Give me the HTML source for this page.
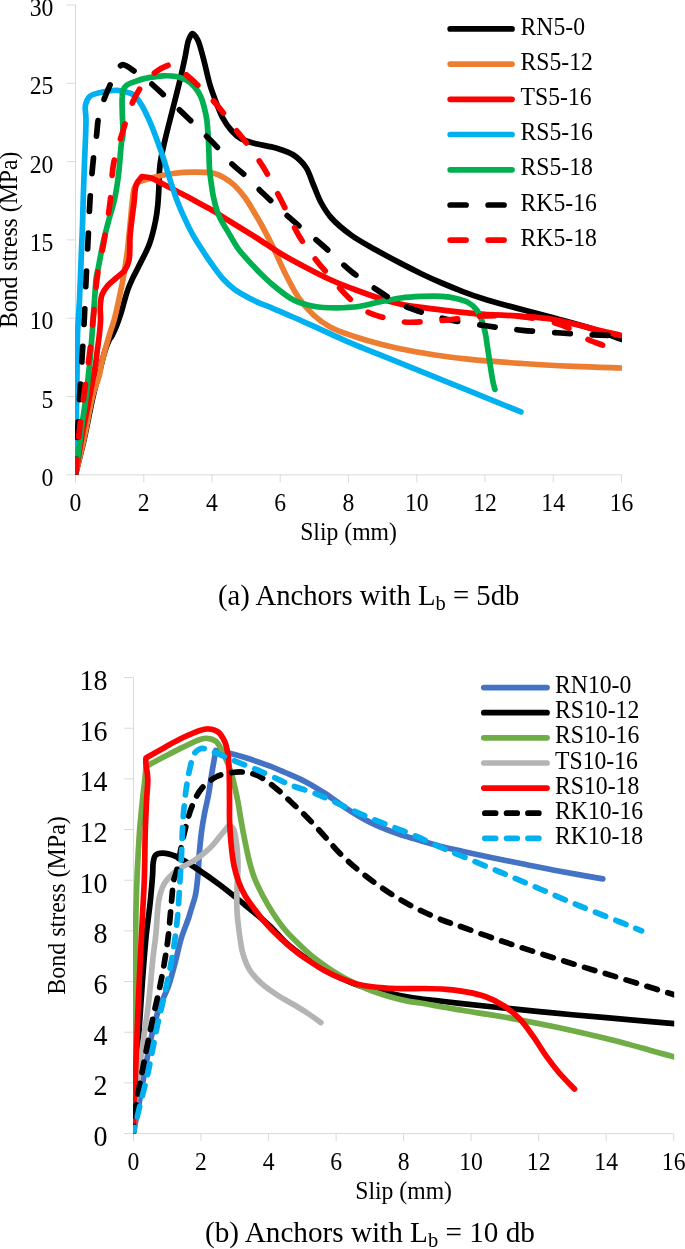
<!DOCTYPE html><html><head><meta charset="utf-8"><title>Bond stress-slip curves</title>
<style>html,body{margin:0;padding:0;background:#fff}svg{display:block}text{font-family:"Liberation Serif","Times New Roman",serif;fill:#000}</style></head><body>
<svg width="685" height="1249" viewBox="0 0 685 1249">
<rect width="685" height="1249" fill="#fff"/>
<defs><clipPath id="c1"><rect x="75.0" y="0" width="547.0" height="474.8"/></clipPath><clipPath id="c2"><rect x="133.0" y="660" width="541.2" height="473.6"/></clipPath></defs>
<g stroke="#dadada" stroke-width="1" fill="none">
<path d="M75.5 5.0V482.3M67.0 474.8H621.5"/>
<path d="M143.8 474.8v7.5M212.0 474.8v7.5M280.2 474.8v7.5M348.5 474.8v7.5M416.8 474.8v7.5M485.0 474.8v7.5M553.2 474.8v7.5M621.5 474.8v7.5M67.0 396.5h8.5M67.0 318.2h8.5M67.0 239.9h8.5M67.0 161.6h8.5M67.0 83.3h8.5M67.0 5.0h8.5"/>
</g>
<g font-size="23.7">
<text transform="translate(75.5 511.0) scale(1 1.030)" text-anchor="middle">0</text>
<text transform="translate(143.8 511.0) scale(1 1.030)" text-anchor="middle">2</text>
<text transform="translate(212.0 511.0) scale(1 1.030)" text-anchor="middle">4</text>
<text transform="translate(280.2 511.0) scale(1 1.030)" text-anchor="middle">6</text>
<text transform="translate(348.5 511.0) scale(1 1.030)" text-anchor="middle">8</text>
<text transform="translate(416.8 511.0) scale(1 1.030)" text-anchor="middle">10</text>
<text transform="translate(485.0 511.0) scale(1 1.030)" text-anchor="middle">12</text>
<text transform="translate(553.2 511.0) scale(1 1.030)" text-anchor="middle">14</text>
<text transform="translate(621.5 511.0) scale(1 1.030)" text-anchor="middle">16</text>
<text transform="translate(53.4 485.9) scale(1 1.030)" text-anchor="end" font-size="23.7">0</text>
<text transform="translate(53.4 407.6) scale(1 1.030)" text-anchor="end" font-size="23.7">5</text>
<text transform="translate(53.4 329.3) scale(1 1.030)" text-anchor="end" font-size="23.7">10</text>
<text transform="translate(53.4 251.0) scale(1 1.030)" text-anchor="end" font-size="23.7">15</text>
<text transform="translate(53.4 172.7) scale(1 1.030)" text-anchor="end" font-size="23.7">20</text>
<text transform="translate(53.4 94.4) scale(1 1.030)" text-anchor="end" font-size="23.7">25</text>
<text transform="translate(53.4 16.1) scale(1 1.030)" text-anchor="end" font-size="23.7">30</text>
<text transform="translate(348.5 540.0) scale(1 1.030)" text-anchor="middle">Slip (mm)</text>
<text transform="translate(17.2 239.9) rotate(-90) scale(1 1.030)" text-anchor="middle" font-size="23.7">Bond stress (MPa)</text>
</g>
<g clip-path="url(#c1)" fill="none" stroke-width="5.7" stroke-linecap="round" stroke-linejoin="round">
<path stroke="#000000" d="M75.5 474.8C78.5 462.3 81.7 450.2 84.6 437.3C87.7 423.6 90.5 407.2 93.4 395.0C95.6 385.5 98.0 377.7 100.0 370.0C101.7 363.4 103.0 357.0 104.8 351.5C106.3 347.0 108.1 342.1 109.5 339.5C110.2 338.1 110.8 337.9 111.6 336.5C113.0 334.0 115.2 329.0 116.8 325.1C118.3 321.3 119.7 317.4 120.9 313.5C122.1 309.6 123.1 305.7 124.2 301.8C125.3 297.9 126.3 294.0 127.7 290.1C129.1 286.2 130.8 282.3 132.6 278.4C134.4 274.5 136.3 271.3 138.5 266.7C141.7 260.3 146.7 251.3 149.6 243.4C152.4 235.7 154.3 227.0 155.7 220.0C156.8 214.5 157.3 210.0 157.8 205.0C158.3 200.0 158.4 195.6 158.8 190.0C159.2 182.7 159.0 173.3 160.0 165.0C161.0 156.6 163.0 148.7 165.0 140.0C167.2 130.4 170.0 120.0 172.5 110.0C175.0 100.0 177.8 89.3 180.0 80.0C181.9 72.0 183.5 64.6 185.0 57.5C186.4 51.2 187.0 43.8 188.8 39.5C189.8 36.8 191.1 33.6 192.5 33.5C194.0 33.4 196.0 36.7 197.5 39.5C200.0 44.1 201.8 52.8 203.8 60.0C205.9 67.9 207.7 77.5 210.0 85.0C211.9 91.4 214.1 96.9 216.2 102.5C218.3 107.7 220.0 112.8 222.5 117.5C224.9 122.0 227.8 126.4 231.0 130.0C234.0 133.4 237.1 136.5 241.0 138.8C245.3 141.2 250.6 142.3 256.0 143.8C262.1 145.4 269.6 146.1 276.0 148.0C282.1 149.9 288.4 151.7 293.5 155.0C298.4 158.2 302.7 162.6 306.0 167.5C309.4 172.6 311.0 179.2 313.5 185.0C316.0 190.8 318.0 197.0 321.0 202.5C323.9 207.8 326.7 212.6 331.0 217.5C336.2 223.5 343.7 229.7 351.0 235.0C358.6 240.6 367.6 245.2 376.0 250.0C384.3 254.7 393.0 259.3 400.9 263.4C408.0 267.1 414.5 270.4 421.3 273.7C428.1 277.0 434.9 280.1 441.8 283.0C448.6 285.9 455.4 288.7 462.2 291.3C469.0 293.9 475.6 296.3 482.6 298.5C489.9 300.8 495.9 302.5 505.0 305.0C518.8 308.8 541.6 314.5 557.7 319.0C571.5 322.8 584.6 326.3 596.0 330.0C605.4 333.1 613.0 336.3 621.5 339.4"/>
<path stroke="#ED7D31" d="M75.5 475.0C78.4 462.5 81.4 450.4 84.2 437.5C87.2 423.8 89.9 406.5 92.9 395.0C95.0 387.0 97.9 380.7 99.4 375.0C100.5 370.8 100.7 367.7 101.5 363.8C102.4 359.6 103.6 355.3 104.8 350.7C106.2 345.7 107.8 340.3 109.4 334.9C111.1 329.3 113.2 323.6 114.7 317.9C116.2 312.2 117.4 306.4 118.6 300.8C119.8 295.4 120.9 290.0 121.9 285.0C122.8 280.5 123.5 276.9 124.3 272.0C125.4 265.6 126.5 257.9 127.5 250.0C128.6 240.8 129.6 229.0 130.5 220.0C131.2 212.7 131.7 205.9 132.5 200.0C133.1 195.3 133.1 190.8 134.5 187.5C135.6 185.0 137.5 183.5 139.0 181.5C144.4 180.0 149.7 178.3 155.2 177.0C160.9 175.6 166.8 174.3 172.9 173.5C179.3 172.7 185.9 172.2 192.6 172.2C199.5 172.2 207.9 172.0 213.6 173.3C217.8 174.3 220.7 175.8 224.1 177.7C227.7 179.8 231.3 182.4 234.6 185.5C238.3 189.0 241.9 193.4 245.1 197.8C248.3 202.2 251.2 207.3 253.9 211.8C256.4 216.0 258.4 219.3 261.0 224.0C264.4 230.2 268.6 238.1 272.5 246.0C276.9 255.0 281.4 266.0 286.0 275.0C290.1 283.1 293.8 290.7 298.5 297.5C303.0 303.9 308.0 309.9 313.5 315.0C318.8 319.9 324.4 324.0 331.0 327.5C338.4 331.4 347.6 334.2 356.0 337.0C364.3 339.8 373.2 342.3 381.0 344.3C387.7 346.1 392.7 347.2 400.0 348.7C409.9 350.7 423.3 353.2 435.0 355.0C446.6 356.8 457.1 358.1 470.0 359.4C485.7 361.0 505.1 362.3 522.6 363.5C540.1 364.7 558.1 365.6 575.0 366.4C591.0 367.1 606.0 367.5 621.5 368.0"/>
<path stroke="#FF0000" d="M75.5 475.0C77.6 462.5 79.5 450.0 81.7 437.5C84.0 425.0 86.6 412.5 89.0 400.0C91.3 387.5 94.4 371.7 95.8 362.5C96.6 357.2 96.8 354.2 97.3 350.0C97.9 345.7 98.6 341.5 99.1 336.8C99.7 331.4 100.4 324.7 100.6 319.3C100.7 314.7 100.0 310.6 100.3 306.4C100.5 302.4 100.7 298.3 102.0 294.8C103.3 291.4 105.5 288.3 107.9 285.4C110.5 282.4 114.3 279.8 117.2 277.2C119.9 274.8 122.8 272.9 124.8 270.2C126.7 267.5 128.1 264.3 128.9 260.9C129.8 257.3 129.6 253.1 129.8 249.2C130.0 245.3 129.7 241.8 130.0 237.5C130.3 232.2 131.1 225.8 131.8 220.0C132.5 214.3 133.2 208.8 134.0 203.0C134.8 196.8 134.6 188.7 136.5 184.0C137.8 180.7 140.2 179.0 142.0 176.5C145.2 177.1 148.4 177.1 151.7 178.2C155.5 179.5 159.5 182.3 163.4 184.3C167.3 186.3 171.1 188.2 175.0 190.2C178.9 192.2 182.8 194.2 186.7 196.3C190.6 198.4 194.5 200.6 198.4 202.7C202.3 204.8 206.7 207.2 210.1 209.1C212.7 210.6 214.4 211.5 217.1 213.2C221.0 215.6 225.7 218.7 231.0 222.0C238.1 226.5 247.7 232.2 256.0 237.5C264.4 242.8 272.6 248.7 281.0 253.8C289.2 258.7 297.6 263.1 306.0 267.5C314.3 271.9 322.6 276.2 331.0 280.0C339.3 283.7 347.6 286.9 356.0 290.0C364.3 293.1 373.2 296.3 381.0 298.8C387.7 300.9 392.7 302.4 400.0 304.0C409.8 306.1 422.8 307.6 435.0 309.2C448.3 310.9 462.7 312.6 477.0 313.8C491.9 315.0 509.2 315.3 522.6 316.3C533.1 317.1 541.7 317.6 550.7 319.0C559.1 320.3 567.2 322.5 575.0 324.3C582.3 326.0 588.7 327.8 596.0 329.6C604.1 331.6 613.0 333.5 621.5 335.5"/>
<path stroke="#00B0F0" d="M75.5 474.8C75.8 458.2 76.0 441.6 76.2 425.0C76.5 408.4 76.8 390.7 77.0 375.0C77.2 360.9 77.1 347.9 77.5 335.0C77.9 322.9 78.9 312.7 79.5 300.0C80.2 284.8 80.9 263.8 81.5 250.0C81.9 240.2 82.2 233.3 82.5 225.0C82.8 216.7 82.9 209.2 83.2 200.0C83.6 188.8 84.0 175.4 84.5 162.5C85.0 148.8 86.0 130.6 86.0 120.0C86.0 113.7 84.6 109.2 85.5 105.0C86.3 101.6 87.5 98.4 90.0 96.2C92.9 93.8 98.1 93.0 102.5 92.0C107.2 90.9 113.0 90.1 117.5 90.3C121.2 90.5 124.7 91.5 127.6 92.4C130.0 93.2 132.0 93.6 134.0 95.2C136.7 97.3 139.4 101.5 141.7 105.2C144.3 109.4 146.6 114.5 148.7 119.2C150.8 123.8 152.7 128.6 154.5 133.2C156.2 137.6 157.7 141.8 159.2 146.1C160.7 150.4 162.3 154.8 163.6 158.9C164.8 162.7 165.8 166.0 167.0 170.0C168.5 174.7 170.1 180.1 171.8 185.2C173.6 190.5 175.3 196.1 177.4 201.5C179.5 207.0 181.9 212.5 184.4 217.9C186.9 223.4 189.6 229.0 192.6 234.3C195.6 239.7 199.0 244.9 202.3 250.0C205.4 254.8 208.3 259.3 211.7 264.0C215.3 269.0 219.3 274.8 223.4 279.2C227.1 283.2 231.0 286.7 235.0 289.7C238.8 292.5 242.8 294.5 246.7 296.7C250.6 298.8 254.5 300.8 258.4 302.6C262.3 304.3 266.4 305.7 270.1 307.2C273.5 308.6 276.0 309.6 280.0 311.3C286.3 314.0 296.2 318.5 304.4 322.1C312.7 325.8 321.0 329.6 329.3 333.3C337.6 337.0 345.8 340.9 354.1 344.4C362.3 347.9 367.2 349.7 378.9 354.4C406.8 365.7 473.6 392.7 520.9 411.9"/>
<path stroke="#00B050" d="M75.5 474.8C77.7 458.2 79.9 440.1 82.0 425.0C83.7 412.3 85.9 399.2 87.0 390.0C87.7 384.0 87.9 379.6 88.4 375.0C88.8 371.0 89.2 368.7 89.7 363.8C90.6 354.7 91.9 337.1 92.8 324.4C93.7 312.5 94.5 298.5 95.2 290.0C95.6 285.0 95.6 281.9 96.2 278.0C96.7 274.2 97.6 271.1 98.5 266.7C99.8 260.3 101.3 251.2 103.0 243.4C104.7 235.6 106.8 227.5 108.8 220.0C110.6 213.1 112.8 207.1 114.4 200.0C116.1 192.2 117.4 183.9 118.5 175.0C119.8 164.9 120.5 149.5 121.5 142.5C122.0 139.1 122.7 138.2 122.9 135.0C123.3 129.7 122.4 120.1 122.3 113.4C122.2 107.6 121.8 101.4 122.2 97.0C122.4 94.0 122.6 91.5 123.5 89.5C124.2 87.8 124.9 86.6 126.4 85.4C128.5 83.7 132.6 82.5 135.7 81.3C138.8 80.1 141.9 79.1 145.1 78.4C148.3 77.6 151.9 77.2 155.0 76.8C157.8 76.4 160.1 75.9 163.1 75.8C167.0 75.7 172.2 75.7 176.3 76.5C180.1 77.3 183.7 78.6 186.8 80.4C189.8 82.1 192.4 84.4 194.7 87.0C197.0 89.7 199.0 92.8 200.6 96.2C202.3 99.9 203.5 104.4 204.5 108.5C205.5 112.4 206.2 115.8 206.8 120.0C207.5 125.0 207.8 131.1 208.2 136.7C208.6 142.5 208.8 148.6 209.0 154.3C209.2 159.7 209.2 165.2 209.6 170.0C209.9 174.2 210.4 177.6 211.0 181.7C211.7 186.4 212.4 192.0 213.4 196.9C214.4 201.7 215.7 206.9 217.1 210.9C218.2 214.0 219.0 216.1 220.5 219.0C222.3 222.7 225.0 226.7 227.6 231.1C230.7 236.4 234.2 243.2 238.1 248.6C241.8 253.8 246.5 258.5 250.4 262.8C253.8 266.5 256.5 269.5 260.0 273.0C264.1 277.0 268.4 281.3 273.5 285.5C279.4 290.3 286.5 296.5 293.5 300.0C299.9 303.2 306.6 304.9 313.5 306.2C320.7 307.6 328.4 307.8 336.0 307.8C343.9 307.8 352.4 307.4 360.0 306.3C367.1 305.3 373.6 303.1 380.4 301.7C387.2 300.3 394.1 298.9 400.9 298.0C407.7 297.1 414.5 296.7 421.3 296.4C428.1 296.1 435.6 295.9 441.8 296.4C447.0 296.8 451.6 297.4 456.1 298.5C460.4 299.5 464.8 300.6 468.3 302.6C471.5 304.4 474.3 306.9 476.5 309.7C478.8 312.6 480.2 316.3 481.6 319.9C483.1 323.7 484.1 327.8 485.1 332.2C486.2 337.2 486.8 342.8 487.7 348.5C488.7 354.9 489.8 362.8 490.8 369.0C491.6 374.2 492.5 379.5 493.3 383.3C493.8 385.8 494.4 387.4 494.9 389.4"/>
<path stroke="#000000" stroke-dasharray="15.6 22.13" stroke-dashoffset="0.0" d="M75.5 475.0C76.3 458.3 77.1 441.7 78.0 425.0C78.9 408.3 80.0 391.7 81.0 375.0C82.0 358.3 83.1 341.7 84.0 325.0C84.9 308.3 85.5 291.7 86.3 275.0C87.1 258.3 88.1 238.8 88.8 225.0C89.2 215.2 89.4 209.5 90.0 200.0C90.9 187.2 92.4 167.0 93.8 155.0C94.7 147.0 95.8 141.3 96.6 135.0C97.3 129.3 97.3 124.2 98.4 118.7C99.6 112.8 101.6 106.5 103.6 100.6C105.6 94.8 108.4 88.8 110.6 83.6C112.5 79.2 114.2 74.6 116.0 71.5C117.2 69.4 118.2 67.7 119.5 66.5C120.5 65.6 121.7 64.7 122.9 64.6C124.2 64.5 125.5 65.5 127.0 66.3C129.2 67.5 131.6 69.3 134.6 71.4C138.9 74.4 145.0 78.4 150.0 82.5C155.2 86.7 159.4 91.0 165.0 96.2C172.3 103.1 181.5 111.7 190.0 120.0C199.0 128.8 210.1 139.5 217.5 147.5C222.9 153.3 226.2 158.2 231.0 163.0C235.7 167.8 240.9 171.4 246.0 176.2C251.7 181.6 256.8 187.3 263.5 193.8C272.1 202.0 283.5 212.5 293.5 221.2C303.1 229.6 312.8 236.8 322.2 245.0C331.9 253.4 341.1 263.2 351.0 271.2C360.7 279.0 372.0 286.6 381.0 292.5C388.0 297.1 393.4 300.8 400.0 304.0C406.7 307.3 413.7 309.6 421.0 312.0C428.8 314.6 436.2 316.9 445.5 319.0C457.6 321.7 474.2 324.1 487.6 326.0C499.8 327.8 510.6 329.1 522.6 330.3C535.1 331.5 548.8 332.2 561.0 333.0C572.1 333.7 582.4 334.3 592.7 334.8C602.5 335.3 611.9 335.6 621.5 336.0"/>
<path stroke="#FF0000" stroke-dasharray="15.6 22.13" stroke-dashoffset="0.0" d="M75.5 475.0C77.0 458.3 78.3 440.5 80.0 425.0C81.5 411.6 83.3 400.0 85.0 387.5C86.7 375.0 88.5 362.5 90.0 350.0C91.5 337.5 92.5 325.0 93.8 312.5C95.0 300.0 95.7 287.0 97.5 275.0C99.1 263.7 101.8 253.9 103.8 242.5C105.9 230.0 108.3 216.3 110.0 203.0C111.7 189.6 111.4 174.9 113.8 162.5C115.8 151.6 119.4 142.5 122.5 132.5C125.6 122.5 128.7 111.0 132.5 102.5C135.5 95.7 138.6 90.1 142.5 85.0C146.2 80.2 150.6 75.8 155.0 72.5C159.0 69.5 164.1 66.7 167.5 65.5C169.6 64.7 170.9 64.0 173.0 64.5C176.4 65.3 181.0 70.4 185.0 73.8C189.2 77.2 193.2 80.9 197.5 85.0C202.3 89.6 207.8 94.9 212.5 100.0C217.0 104.9 221.0 109.9 225.0 115.0C228.9 119.9 232.4 125.3 236.0 130.0C239.4 134.4 242.3 137.5 246.0 142.5C251.1 149.3 257.9 158.4 263.5 167.5C269.6 177.5 275.2 188.9 281.0 200.0C286.9 211.4 292.3 224.5 298.5 235.0C304.0 244.3 310.2 252.5 316.0 260.0C321.0 266.5 325.8 271.5 331.0 277.5C336.6 284.0 342.4 291.7 348.5 297.5C354.1 302.8 359.9 307.9 366.0 311.2C371.6 314.3 377.4 315.8 383.5 317.5C389.9 319.3 397.0 321.2 403.5 321.9C409.5 322.6 414.5 322.1 421.0 321.9C429.2 321.6 439.4 320.7 449.0 319.8C459.3 318.8 469.8 316.6 481.0 316.0C493.3 315.3 507.5 315.3 520.0 316.5C531.8 317.6 545.2 320.2 554.0 322.6C559.8 324.2 563.0 325.4 568.0 327.8C574.4 330.8 582.6 337.0 589.0 340.0C594.0 342.4 598.0 343.3 603.0 345.3C608.8 347.6 615.3 350.4 621.5 353.0"/>
</g>
<g font-size="23.7" stroke-width="5.7" stroke-linecap="round" fill="none">
<path stroke="#000000" d="M450.2 28.9H512.0"/>
<text transform="translate(520.5 34.5) scale(1 1.030)" fill="#000" stroke="none">RN5-0</text>
<path stroke="#ED7D31" d="M450.2 64.1H512.0"/>
<text transform="translate(520.5 69.7) scale(1 1.030)" fill="#000" stroke="none">RS5-12</text>
<path stroke="#FF0000" d="M450.2 99.3H512.0"/>
<text transform="translate(520.5 104.9) scale(1 1.030)" fill="#000" stroke="none">TS5-16</text>
<path stroke="#00B0F0" d="M450.2 134.5H512.0"/>
<text transform="translate(520.5 140.1) scale(1 1.030)" fill="#000" stroke="none">RS5-16</text>
<path stroke="#00B050" d="M450.2 169.8H512.0"/>
<text transform="translate(520.5 175.4) scale(1 1.030)" fill="#000" stroke="none">RS5-18</text>
<path stroke="#000000" d="M450.15 205.0H466.05M488.15 205.0H504.05"/>
<text transform="translate(520.5 210.6) scale(1 1.030)" fill="#000" stroke="none">RK5-16</text>
<path stroke="#FF0000" d="M450.15 240.1H466.05M488.15 240.1H504.05"/>
<text transform="translate(520.5 245.7) scale(1 1.030)" fill="#000" stroke="none">RK5-18</text>
</g>
<text transform="translate(218.0 605.2) scale(1 1.030)" font-size="28.7">(a) Anchors with L<tspan font-size="20.5" dy="4.2">b</tspan><tspan dy="-4.2"> = 5db</tspan></text>
<g stroke="#dadada" stroke-width="1" fill="none">
<path d="M133.5 677.5V1141.1M124.0 1133.6H673.7"/>
<path d="M201.0 1133.6v7.5M268.6 1133.6v7.5M336.1 1133.6v7.5M403.6 1133.6v7.5M471.1 1133.6v7.5M538.7 1133.6v7.5M606.2 1133.6v7.5M673.7 1133.6v7.5M124.0 1082.9h9.5M124.0 1032.2h9.5M124.0 981.6h9.5M124.0 930.9h9.5M124.0 880.2h9.5M124.0 829.5h9.5M124.0 778.9h9.5M124.0 728.2h9.5M124.0 677.5h9.5"/>
</g>
<g font-size="23.7">
<text transform="translate(133.5 1170.3) scale(1 1.030)" text-anchor="middle">0</text>
<text transform="translate(201.0 1170.3) scale(1 1.030)" text-anchor="middle">2</text>
<text transform="translate(268.6 1170.3) scale(1 1.030)" text-anchor="middle">4</text>
<text transform="translate(336.1 1170.3) scale(1 1.030)" text-anchor="middle">6</text>
<text transform="translate(403.6 1170.3) scale(1 1.030)" text-anchor="middle">8</text>
<text transform="translate(471.1 1170.3) scale(1 1.030)" text-anchor="middle">10</text>
<text transform="translate(538.7 1170.3) scale(1 1.030)" text-anchor="middle">12</text>
<text transform="translate(606.2 1170.3) scale(1 1.030)" text-anchor="middle">14</text>
<text transform="translate(673.7 1170.3) scale(1 1.030)" text-anchor="middle">16</text>
<text transform="translate(107.6 1146.0) scale(1 1.030)" text-anchor="end" font-size="28.0">0</text>
<text transform="translate(107.6 1095.3) scale(1 1.030)" text-anchor="end" font-size="28.0">2</text>
<text transform="translate(107.6 1044.6) scale(1 1.030)" text-anchor="end" font-size="28.0">4</text>
<text transform="translate(107.6 994.0) scale(1 1.030)" text-anchor="end" font-size="28.0">6</text>
<text transform="translate(107.6 943.3) scale(1 1.030)" text-anchor="end" font-size="28.0">8</text>
<text transform="translate(107.6 892.6) scale(1 1.030)" text-anchor="end" font-size="28.0">10</text>
<text transform="translate(107.6 841.9) scale(1 1.030)" text-anchor="end" font-size="28.0">12</text>
<text transform="translate(107.6 791.3) scale(1 1.030)" text-anchor="end" font-size="28.0">14</text>
<text transform="translate(107.6 740.6) scale(1 1.030)" text-anchor="end" font-size="28.0">16</text>
<text transform="translate(107.6 689.9) scale(1 1.030)" text-anchor="end" font-size="28.0">18</text>
<text transform="translate(403.6 1198.5) scale(1 1.030)" text-anchor="middle">Slip (mm)</text>
<text transform="translate(65.3 905.5) rotate(-90) scale(1 1.030)" text-anchor="middle" font-size="24.0">Bond stress (MPa)</text>
</g>
<g clip-path="url(#c2)" fill="none" stroke-width="5.7" stroke-linecap="round" stroke-linejoin="round">
<path stroke="#4472C4" d="M133.2 1133.6C135.1 1124.1 136.9 1115.0 138.8 1105.0C140.8 1093.9 142.9 1081.4 145.0 1070.0C147.0 1059.0 148.9 1047.8 151.2 1037.5C153.4 1027.9 155.5 1018.9 158.5 1010.0C161.4 1001.4 166.0 993.2 168.8 985.0C171.4 977.4 173.1 970.2 175.2 962.5C177.4 954.4 179.1 945.3 181.5 937.5C183.7 930.4 187.1 922.6 188.8 917.5C189.8 914.4 190.1 912.9 191.0 910.0C192.2 905.8 194.4 900.1 195.5 894.7C196.7 888.8 197.3 882.3 197.9 875.7C198.6 868.7 198.7 861.1 199.3 853.8C199.9 846.5 200.6 839.0 201.5 831.9C202.4 825.1 203.6 818.3 204.8 812.0C205.9 806.2 207.3 801.3 208.4 795.3C209.7 788.5 210.6 780.8 211.8 773.4C213.0 765.8 214.5 758.1 215.8 750.5C219.7 751.2 223.2 751.7 227.5 752.7C232.8 753.9 238.7 755.5 245.0 757.5C252.6 759.9 262.8 763.5 270.0 766.2C275.7 768.4 279.6 770.2 285.0 772.5C291.3 775.2 298.7 778.2 305.4 781.7C312.3 785.3 319.2 789.6 325.9 794.0C332.8 798.5 339.4 803.8 346.3 808.3C353.0 812.7 359.9 817.0 366.8 820.6C373.5 824.1 380.3 827.1 387.2 829.8C394.0 832.5 401.1 834.8 407.7 836.9C413.7 838.8 419.3 840.4 425.0 842.0C430.4 843.6 435.3 845.1 441.0 846.5C447.5 848.1 454.6 849.6 462.0 851.2C470.3 853.0 479.2 855.0 488.6 857.0C499.1 859.2 511.0 861.5 522.2 863.8C533.4 866.0 543.6 868.2 555.7 870.5C570.1 873.2 587.1 876.1 602.8 878.9"/>
<path stroke="#000000" d="M133.2 1133.6C133.4 1126.6 133.4 1121.3 133.8 1112.5C134.4 1098.0 136.2 1075.4 137.5 1055.0C139.0 1031.7 140.9 1001.8 142.5 980.0C143.8 963.1 144.9 948.5 146.2 935.0C147.4 924.0 148.8 915.0 149.9 905.0C151.0 895.0 152.0 882.9 152.6 875.0C153.0 869.8 152.6 865.6 153.3 862.0C153.8 859.3 154.0 856.7 155.5 855.2C157.0 853.7 159.8 853.3 162.5 853.2C166.1 853.1 171.3 854.6 175.0 856.0C178.3 857.2 180.7 858.9 183.8 860.6C187.3 862.6 190.6 864.6 195.0 867.5C201.7 871.9 211.8 878.8 220.0 885.0C228.4 891.3 236.7 898.2 245.0 905.0C253.4 911.9 262.9 919.3 270.0 926.0C275.8 931.5 279.4 936.7 285.0 941.8C291.1 947.3 298.5 952.9 305.4 957.8C312.1 962.5 319.0 967.0 325.9 970.8C332.6 974.5 340.0 977.8 346.3 980.5C351.6 982.8 355.4 984.5 361.0 986.2C368.2 988.5 377.6 990.6 386.0 992.5C394.3 994.4 402.6 996.1 411.0 997.5C419.3 998.8 427.6 999.6 436.0 1000.6C444.6 1001.6 452.2 1002.5 462.0 1003.6C474.6 1005.0 490.4 1006.7 505.4 1008.2C521.5 1009.9 538.9 1011.6 555.7 1013.2C572.5 1014.8 588.0 1016.1 606.1 1017.7C627.1 1019.6 651.6 1021.7 674.3 1023.7"/>
<path stroke="#70AD47" d="M133.5 1133.0C133.7 1093.7 133.4 1044.6 134.0 1015.0C134.3 997.1 135.2 987.6 135.5 972.0C135.9 953.2 135.4 931.8 136.0 910.0C136.6 885.5 138.1 852.0 139.5 832.0C140.4 819.4 141.4 810.7 142.4 801.3C143.2 793.2 144.3 785.1 144.9 778.8C145.4 774.1 145.6 770.7 146.0 766.7C147.1 766.0 147.6 765.6 149.2 764.7C153.1 762.5 163.9 756.8 170.0 753.7C174.7 751.3 178.0 749.6 182.6 747.4C187.9 744.9 195.4 740.9 200.0 739.5C202.8 738.6 204.6 738.1 207.1 738.3C209.9 738.5 213.4 739.4 215.8 741.3C218.5 743.3 220.1 747.1 222.0 750.5C224.1 754.3 225.9 759.0 227.5 763.0C229.0 766.6 230.2 769.6 231.4 773.4C232.8 777.8 233.9 783.4 235.0 788.0C236.0 792.2 236.7 795.4 237.6 800.0C238.8 806.2 240.0 814.6 241.3 821.9C242.6 829.2 244.1 837.1 245.5 843.8C246.7 849.6 247.6 854.5 249.0 860.0C250.5 865.7 252.0 871.7 254.2 877.5C256.5 883.4 259.4 889.2 262.4 895.0C265.5 900.9 268.9 906.8 272.6 912.5C276.4 918.4 280.8 924.8 285.2 930.0C289.2 934.7 293.0 938.3 297.5 942.7C302.7 947.8 309.0 953.7 315.0 958.5C320.7 963.0 326.9 967.2 332.5 970.8C337.3 973.9 341.2 976.3 346.3 979.0C352.4 982.3 359.9 985.9 366.8 988.8C373.5 991.6 380.3 993.9 387.2 996.0C394.0 998.0 401.1 999.8 407.7 1001.1C413.7 1002.3 419.4 1002.8 425.0 1003.8C430.4 1004.7 435.3 1005.7 441.0 1006.7C447.5 1007.9 453.7 1008.9 462.0 1010.3C473.9 1012.3 490.4 1014.6 505.4 1017.3C521.6 1020.2 539.0 1023.5 555.7 1027.0C572.5 1030.6 588.1 1034.1 606.1 1038.6C627.2 1043.8 651.6 1050.8 674.3 1056.9"/>
<path stroke="#B4B4B4" d="M133.2 1133.6C133.8 1124.1 134.0 1115.8 135.0 1105.0C136.3 1090.6 139.0 1071.7 141.2 1055.0C143.5 1038.3 146.3 1021.7 148.3 1005.0C150.3 988.4 151.8 967.9 153.3 955.0C154.2 946.8 155.0 942.7 155.8 935.0C157.0 924.5 157.1 907.1 159.3 897.5C160.8 891.3 162.1 887.0 165.0 882.5C168.1 877.8 172.7 873.7 177.5 870.0C182.6 866.1 189.5 863.7 195.0 860.0C200.3 856.4 205.6 852.3 210.0 848.0C214.2 843.9 217.6 839.0 221.0 835.0C223.9 831.5 226.3 828.5 229.0 825.3C230.4 826.4 232.1 826.7 233.2 828.5C235.1 831.5 235.8 838.2 236.6 843.8C237.5 850.4 237.9 858.4 238.0 865.7C238.1 873.0 237.2 880.3 237.0 887.6C236.8 894.8 236.6 902.0 236.9 909.2C237.2 916.5 238.1 923.8 239.1 931.1C240.1 938.4 240.8 946.2 242.7 953.0C244.5 959.3 246.7 965.3 250.0 970.5C253.1 975.5 257.2 979.6 261.7 983.6C266.4 987.9 272.2 991.7 277.8 995.3C283.4 999.0 289.8 1002.2 295.3 1005.5C300.3 1008.5 305.1 1011.5 309.5 1014.5C313.5 1017.2 317.0 1019.9 320.8 1022.6"/>
<path stroke="#FF0000" d="M133.2 1133.6C133.4 1129.1 133.5 1126.2 133.8 1120.0C134.3 1106.4 135.3 1077.4 136.2 1055.0C137.2 1030.9 138.2 1003.9 139.3 980.0C140.3 958.2 141.5 935.7 142.4 917.5C143.1 903.4 143.8 893.4 144.3 880.0C144.8 864.5 144.9 844.4 145.3 830.0C145.6 819.1 146.1 810.3 146.5 801.3C146.9 793.3 147.9 784.7 147.8 778.8C147.6 774.9 147.1 772.1 146.7 769.2C146.4 766.8 145.9 764.8 145.8 762.8C145.7 761.1 145.9 759.6 146.0 758.0C152.3 754.4 158.8 750.6 165.0 747.2C171.0 743.9 176.7 740.6 182.6 737.8C188.4 735.0 195.1 731.8 200.0 730.4C203.4 729.4 205.9 728.8 208.8 729.0C211.8 729.2 215.1 729.8 217.6 731.6C220.5 733.6 222.9 737.6 224.6 741.3C226.5 745.4 227.3 750.3 228.1 755.3C228.9 760.8 229.0 766.3 229.2 772.8C229.5 780.9 229.4 791.4 229.5 800.0C229.6 807.7 229.3 814.6 229.6 821.9C229.9 829.2 230.4 836.5 231.1 843.8C231.8 851.1 232.6 859.0 234.0 865.7C235.2 871.6 236.8 876.9 238.7 882.0C240.5 886.8 242.4 891.1 245.0 895.5C247.7 900.2 251.3 904.9 254.8 909.5C258.4 914.3 262.1 919.1 266.3 923.8C270.7 928.8 275.7 933.7 280.7 938.4C285.8 943.2 291.6 948.2 296.8 952.2C301.3 955.7 305.5 958.5 310.0 961.5C314.4 964.5 318.6 967.3 323.5 970.0C328.9 973.0 334.9 975.8 341.0 978.3C347.4 980.9 353.9 983.4 361.0 985.0C368.8 986.8 378.2 987.4 386.0 988.0C392.8 988.5 398.6 988.5 405.0 988.6C411.6 988.7 418.2 988.4 425.0 988.5C432.0 988.6 439.2 988.8 446.3 989.4C453.3 990.0 460.6 990.8 467.3 992.1C473.7 993.3 479.7 994.6 485.7 996.8C492.0 999.1 498.4 1002.3 504.1 1006.0C509.8 1009.7 515.0 1014.2 519.8 1019.1C524.7 1024.2 528.7 1030.2 533.0 1036.2C537.5 1042.5 541.6 1049.6 546.1 1055.9C550.4 1061.9 554.6 1067.5 559.3 1073.0C564.1 1078.5 569.4 1083.7 574.5 1089.0"/>
<path stroke="#000000" stroke-dasharray="10.8 10.95" stroke-dashoffset="3.5" d="M133.2 1133.6C133.8 1126.6 133.9 1120.7 135.0 1112.5C136.5 1100.8 139.7 1084.7 142.5 1070.0C145.5 1054.0 149.2 1035.7 152.5 1020.0C155.4 1005.9 158.7 993.1 161.2 980.0C163.7 967.3 165.8 955.0 167.5 942.5C169.2 930.0 170.1 916.2 171.2 905.0C172.2 895.8 172.5 885.8 173.8 880.0C174.5 876.7 175.3 876.0 176.2 872.5C178.3 864.8 180.9 846.7 183.8 835.0C186.4 824.4 188.9 813.5 192.5 805.0C195.4 798.2 198.2 792.3 202.5 787.5C206.6 782.8 212.2 778.8 217.5 776.2C222.3 774.0 228.0 773.2 232.5 772.5C236.1 772.0 238.9 771.7 242.5 772.0C247.0 772.4 252.5 773.3 257.5 775.5C263.4 778.1 269.4 783.1 275.0 787.5C280.6 791.9 285.8 797.2 291.0 802.0C296.1 806.7 300.9 811.1 306.0 816.2C311.7 822.0 317.8 828.7 323.5 835.0C329.1 841.2 334.1 847.6 340.0 853.5C346.1 859.6 352.8 865.5 359.5 871.0C366.1 876.5 372.8 881.5 380.0 886.5C387.5 891.7 395.6 897.0 403.5 901.5C411.0 905.8 418.7 909.6 426.0 913.0C432.8 916.2 439.7 919.1 446.0 921.5C451.6 923.6 455.5 924.7 462.0 927.0C472.0 930.5 487.1 936.1 500.0 940.5C513.1 945.0 526.7 949.2 540.0 953.5C553.3 957.7 566.7 961.9 580.0 966.0C593.3 970.1 605.7 973.6 620.0 978.0C636.7 983.1 656.2 989.2 674.3 994.8"/>
<path stroke="#00B0F0" stroke-dasharray="10.8 10.95" stroke-dashoffset="4.5" d="M133.2 1133.6C135.5 1124.1 137.7 1114.6 140.0 1105.0C142.4 1095.1 145.0 1086.3 147.5 1075.0C150.8 1060.5 154.3 1039.9 157.5 1025.0C160.1 1013.0 162.6 1003.7 165.0 992.5C167.6 980.5 170.4 967.5 172.5 955.0C174.6 942.5 176.2 930.0 177.5 917.5C178.7 905.0 179.3 890.6 180.0 880.0C180.5 872.3 180.8 868.2 181.2 860.0C182.0 847.1 182.2 825.7 183.8 810.0C185.1 795.9 187.1 780.5 189.5 770.0C191.1 763.1 192.4 756.6 194.8 753.0C196.3 750.8 198.2 749.5 200.0 748.8C201.6 748.2 203.1 748.4 205.0 748.7C207.8 749.2 211.2 751.0 215.0 752.5C220.0 754.5 226.1 757.4 232.5 760.0C240.1 763.1 249.0 766.4 257.5 770.0C266.5 773.8 278.4 779.6 285.0 782.5C288.6 784.1 290.0 784.9 293.5 786.2C299.2 788.4 308.4 790.8 316.0 793.8C324.2 796.9 332.7 801.2 341.0 805.0C349.3 808.8 357.6 812.7 366.0 816.2C374.3 819.8 382.7 822.9 391.0 826.2C399.3 829.6 407.7 832.7 416.0 836.2C424.4 839.8 433.0 844.0 441.0 847.5C448.3 850.7 454.0 852.9 462.0 856.2C472.8 860.7 487.2 866.6 500.0 872.0C513.2 877.5 526.7 883.3 540.0 889.0C553.3 894.7 566.6 900.5 580.0 906.0C593.3 911.5 608.7 917.4 620.0 922.0C628.3 925.4 634.4 927.9 641.6 930.8"/>
</g>
<g font-size="23.7" stroke-width="5.7" stroke-linecap="round" fill="none">
<path stroke="#4472C4" d="M483.8 687.6H547.0"/>
<text transform="translate(555.0 693.2) scale(1 1.030)" fill="#000" stroke="none">RN10-0</text>
<path stroke="#000000" d="M483.8 712.7H547.0"/>
<text transform="translate(555.0 718.3) scale(1 1.030)" fill="#000" stroke="none">RS10-12</text>
<path stroke="#70AD47" d="M483.8 737.8H547.0"/>
<text transform="translate(555.0 743.4) scale(1 1.030)" fill="#000" stroke="none">RS10-16</text>
<path stroke="#B4B4B4" d="M483.8 763.0H547.0"/>
<text transform="translate(555.0 768.6) scale(1 1.030)" fill="#000" stroke="none">TS10-16</text>
<path stroke="#FF0000" d="M483.8 788.1H547.0"/>
<text transform="translate(555.0 793.7) scale(1 1.030)" fill="#000" stroke="none">RS10-18</text>
<path stroke="#000000" d="M484.85 813.2H495.65M506.55 813.2H517.25M527.95 813.2H538.85"/>
<text transform="translate(555.0 818.8) scale(1 1.030)" fill="#000" stroke="none">RK10-16</text>
<path stroke="#00B0F0" d="M484.85 838.3H495.65M506.55 838.3H517.25M527.95 838.3H538.85"/>
<text transform="translate(555.0 843.9) scale(1 1.030)" fill="#000" stroke="none">RK10-18</text>
</g>
<text transform="translate(205.0 1242.4) scale(1 1.030)" font-size="29.2">(b) Anchors with L<tspan font-size="20.5" dy="4.2">b</tspan><tspan dy="-4.2"> = 10 db</tspan></text>
</svg></body></html>
